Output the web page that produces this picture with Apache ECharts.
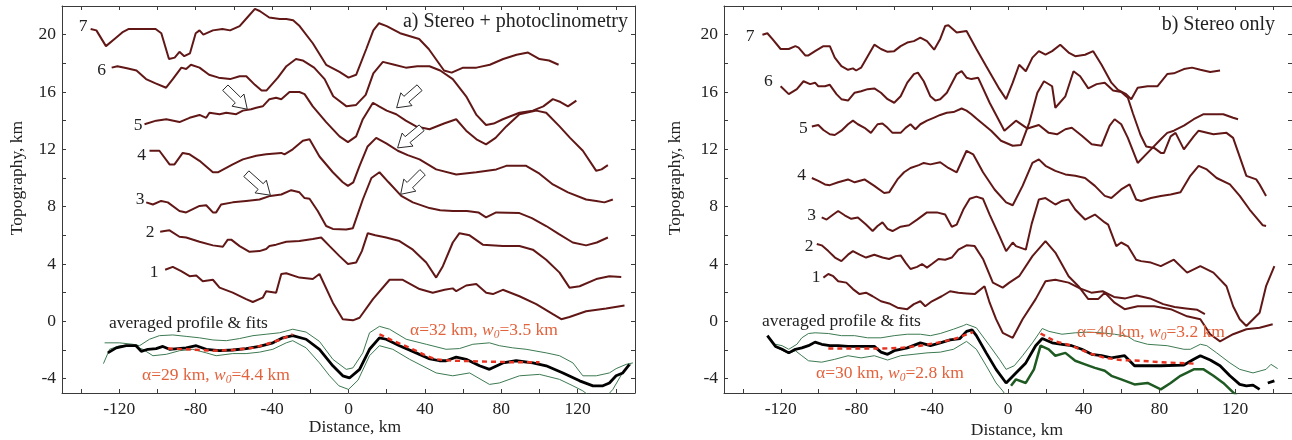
<!DOCTYPE html>
<html><head><meta charset="utf-8">
<script src="https://cdn.jsdelivr.net/npm/echarts@6/dist/echarts.min.js"></script>
<style>html,body{margin:0;padding:0;background:#fff}#c{width:1292px;height:440px}</style>
</head><body><div id="c"></div>
<script>
// ---------- tick labels ----------
const X_LABELS = [-120, -80, -40, 0, 40, 80, 120];
const X_TICKS = [-140,-120,-100,-80,-60,-40,-20,0,20,40,60,80,100,120,140];
const Y_LABELS = [-4, 0, 4, 8, 12, 16, 20];
const Y_TICKS = [-4,-2,0,2,4,6,8,10,12,14,16,18,20];

// ---------- panel a: stereo + photoclinometry ----------
const A7 = [[-135,20.4],[-132,20.3],[-127,19.2],[-122.5,19.7],[-118,20.2],[-115,20.4],[-101,20.4],[-98,20.1],[-94,18.3],[-91,18.4],[-88.5,18.8],[-86,18.5],[-83,18.7],[-80,20.1],[-78,20.3],[-76,20.0],[-71,20.3],[-66,20.4],[-62,20.3],[-57,20.6],[-53,21.2],[-49,21.8],[-46.5,21.65],[-41.5,21.2],[-36,21.1],[-32.5,21.1],[-29,21.0],[-25.6,20.6],[-18.7,19.4],[-11.7,17.9],[-4.7,17.4],[0,17.0],[4,17.2],[9.3,19.0],[13,20.3],[16,20.8],[20,20.6],[27,20.1],[37,19.7],[42,19.0],[50,17.5],[54,17.35],[60,17.7],[67,17.7],[74,17.9],[81,18.3],[88,18.6],[94,18.75],[100,18.3],[105,18.2],[110,17.9]];
const A6 = [[-124,17.7],[-121,17.8],[-116,17.65],[-111,17.5],[-106,16.9],[-101,16.6],[-95.5,16.3],[-92,16.9],[-87.5,17.7],[-85,17.6],[-82.5,17.9],[-78,17.7],[-73,17.2],[-68,17.0],[-62,16.9],[-57,17.1],[-53.5,17.1],[-49,16.5],[-45.5,16.1],[-43,16.1],[-37,17.0],[-32.5,17.8],[-27.5,18.3],[-24,18.2],[-18,17.7],[-12.5,16.9],[-8,15.7],[-1,15.0],[4,15.1],[9,15.8],[13,17.3],[18,18.1],[24,17.9],[30,17.7],[36,17.8],[42.4,17.8],[48,17.5],[54.6,16.9],[61.6,15.7],[67,14.4],[72,13.7],[76,13.8],[80.8,14.1],[89.5,14.55],[96.5,14.7],[102,15.0],[107,15.5],[111,15.3],[114.9,15.0],[119.3,15.4]];
const A5 = [[-106.8,13.75],[-100.7,14.0],[-95.4,14.1],[-88.5,13.9],[-83.2,14.2],[-78,14.4],[-74.5,14.2],[-72.8,14.55],[-67.5,14.45],[-64,14.55],[-58.8,14.45],[-55.3,14.7],[-51,14.8],[-48.3,14.9],[-44.9,15.0],[-41.4,15.5],[-37.9,15.6],[-35.2,15.5],[-30.9,16.0],[-25.7,16.0],[-23,15.85],[-18.7,15.0],[-11.7,13.9],[-4.7,12.9],[-0.3,12.5],[4,12.9],[7.5,14.1],[12.8,15.25],[16,15.0],[20,14.7],[25,14.45],[30,14.0],[35.4,13.6],[42.4,13.4],[50,13.8],[56.4,14.1],[61.6,13.3],[67,12.7],[72,12.35],[77,12.8],[82.6,13.6],[89.5,14.45],[98.3,14.7],[103.5,14.55],[110.5,13.6],[116,12.8],[122.7,11.9],[129.7,10.5],[132.5,10.6],[135.8,10.9]];
const A4 = [[-104.2,11.9],[-99,11.9],[-93.7,10.95],[-91.1,10.95],[-86.8,11.75],[-83.2,11.65],[-78,11.2],[-71,10.4],[-68.4,10.4],[-60.6,10.95],[-55.3,11.3],[-48.3,11.55],[-43.1,11.65],[-35.2,11.75],[-33.5,11.65],[-29.2,12.0],[-23.9,12.6],[-20.4,12.7],[-15.2,11.5],[-8.2,10.4],[-3,9.7],[-0.3,9.45],[2.5,9.7],[5.8,10.85],[10,12.2],[14.5,12.8],[20,12.4],[25.8,11.9],[31,11.6],[37.2,11.3],[45.9,10.6],[56.4,10.25],[66.9,10.4],[77.4,10.6],[82.6,10.85],[93,10.85],[100,10.3],[107,9.55],[114.9,9.0],[124.4,8.5],[129.7,8.4],[134,8.3],[138.4,8.5]];
const A3 = [[-105.9,8.3],[-102.4,8.15],[-98.1,8.4],[-94.6,8.3],[-88.5,7.7],[-85,7.6],[-78,8.05],[-74.5,8.1],[-71,7.6],[-69.3,7.6],[-66.7,8.15],[-60.6,8.3],[-53.6,8.4],[-46.6,8.5],[-41,8.75],[-35.2,8.85],[-30,9.15],[-25.7,9.0],[-23,8.6],[-20.4,8.55],[-16.1,7.7],[-11.7,6.65],[-8.2,6.45],[-1.2,6.4],[2.3,6.5],[7.5,8.5],[12,10.0],[16.2,10.4],[21,9.7],[27.6,8.75],[33.7,8.3],[42.4,7.9],[48,7.75],[54.7,7.7],[62,7.7],[68,7.6],[72,7.25],[77.3,7.6],[89.5,7.55],[96,7.2],[103.5,6.65],[110,6.1],[117.4,5.5],[124.4,5.3],[130,5.5],[135.8,5.85]];
const A2 = [[-98.6,6.25],[-96.3,6.3],[-93.7,6.35],[-88.5,5.9],[-85,5.85],[-78,5.55],[-71,5.3],[-65.8,5.2],[-63.2,5.7],[-61.4,5.7],[-57,5.25],[-51.8,4.85],[-46.6,4.9],[-43.1,5.05],[-41.4,5.25],[-37.9,5.35],[-32.6,5.55],[-25.7,5.6],[-18.7,5.75],[-14.3,5.85],[-9.9,5.25],[-4.7,4.55],[-0.3,4.0],[4,4.1],[7,4.9],[10.1,6.15],[14,6.0],[19.7,5.85],[26.7,5.6],[33.7,5.0],[40.7,4.1],[45.9,3.05],[49.4,3.85],[54.6,5.5],[58.1,6.15],[63.4,6.0],[70.3,5.35],[80.8,5.25],[89.5,5.25],[96.5,5.0],[103.5,4.3],[110.5,3.4],[115.7,2.35],[121,2.45],[129.7,2.95],[136.6,3.15],[142.8,3.1]];
const A1 = [[-96,3.6],[-92,3.8],[-87.6,3.5],[-83.2,3.15],[-79.7,3.2],[-76.3,2.8],[-71,2.9],[-67.5,2.35],[-60.6,2.0],[-53.6,1.55],[-50.1,1.35],[-44.9,1.65],[-43.1,2.1],[-37.9,2.0],[-35.2,3.3],[-32.6,3.35],[-25.7,3.05],[-18.7,2.95],[-15.2,3.3],[-8.2,1.3],[-3,0.15],[2.3,0.07],[5.8,0.25],[12.8,1.55],[21.5,2.9],[28.4,2.9],[37.2,2.25],[44.1,2.0],[50.3,2.2],[54.6,2.3],[56.4,2.1],[61.6,2.5],[66.9,2.6],[72.1,2.0],[75.6,1.9],[80.8,2.2],[89.5,1.75],[98.3,1.2],[107,0.5],[111.4,0.15],[115.7,0.3],[124.4,0.7],[134.9,0.9],[144.5,1.1]];
const AVG_A = [[-126,-2.2],[-121.6,-1.85],[-116.4,-1.7],[-111.2,-1.7],[-108.5,-2.1],[-105,-1.95],[-100.7,-1.9],[-97.2,-1.75],[-93.7,-1.95],[-85,-1.85],[-79.7,-1.7],[-74.5,-1.95],[-67.5,-2.05],[-60.6,-2.0],[-53.6,-1.9],[-46.6,-1.75],[-39.6,-1.5],[-34.4,-1.15],[-29.2,-1.0],[-22.2,-1.25],[-15.2,-1.95],[-8.2,-3.1],[-3,-3.8],[0.5,-3.95],[5.8,-3.35],[11,-1.95],[16.2,-1.15],[19.7,-1.25],[26.7,-1.7],[35.4,-2.2],[42,-2.6],[47.6,-2.75],[51.1,-2.75],[56.4,-2.5],[61.6,-2.65],[68.6,-3.1],[73.8,-3.35],[80.8,-2.9],[87.8,-2.75],[96.5,-2.9],[103.5,-3.1],[112.3,-3.6],[121,-4.15],[128,-4.5],[133.2,-4.5],[136.6,-4.3],[140.1,-3.8],[143.6,-3.6],[147.1,-3.0]];
const UP_A = [[-127.7,-1.5],[-119.9,-1.5],[-112.9,-1.6],[-109.4,-1.7],[-104.2,-1.25],[-99,-1.0],[-92,-0.95],[-85,-1.05],[-78,-1.15],[-71,-1.3],[-64,-1.35],[-57,-1.2],[-50,-1.0],[-43.1,-0.9],[-36.1,-0.8],[-29.2,-0.55],[-22.2,-0.75],[-15.2,-1.4],[-8.2,-2.65],[-1.2,-3.35],[2.3,-3.25],[7.5,-2.2],[11,-0.8],[16.2,-0.35],[21.5,-0.55],[30.2,-1.25],[40.7,-1.6],[51.1,-1.95],[58.1,-1.9],[65.1,-1.6],[73.8,-1.5],[79,-1.7],[86,-1.85],[93,-1.95],[103.5,-2.2],[110.5,-2.4],[117.5,-2.9],[122.7,-3.8],[129.7,-3.8],[136.6,-3.6],[140.1,-3.3],[145.4,-3.0],[148.9,-2.9]];
const LO_A = [[-128.3,-2.95],[-125.1,-1.95],[-119.9,-1.7],[-112.9,-1.7],[-107.7,-1.95],[-102.4,-2.4],[-95.4,-2.3],[-88.5,-2.05],[-81.5,-1.95],[-74.5,-2.2],[-69.3,-2.4],[-60.6,-2.25],[-53.6,-2.25],[-46.6,-2.15],[-39.6,-1.95],[-32.6,-1.5],[-29.2,-1.35],[-22.2,-1.85],[-15.2,-2.9],[-9.9,-3.8],[-5,-4.5],[0,-4.75],[5,-4.1],[11,-2.4],[16.2,-1.7],[23.2,-1.95],[32,-2.65],[45.9,-3.6],[54.6,-3.8],[63.4,-3.6],[73.8,-4.4],[79,-4.3],[89.5,-3.8],[100,-3.7],[110.5,-4.05],[117.5,-4.5],[122.7,-4.85],[128,-5.4],[134,-5.4],[138.4,-4.75],[141.9,-3.95],[144.5,-3.35],[148,-3.0]];
const FIT_A1 = [[-94.6,-1.9],[-85,-1.95],[-71,-2.05],[-60.6,-2.0],[-50.1,-1.85],[-43.1,-1.6],[-36.1,-1.3],[-29.2,-0.9]];
const FIT_A2 = [[16.2,-0.9],[23.2,-1.35],[33.7,-1.95],[40.7,-2.4],[45.9,-2.65],[54.7,-2.75],[70,-2.8],[85,-2.85],[100,-2.85]];
// arrows: [tailX, tailY, tipX, tipY]
const ARROWS_A = [[-64.5,16.3,-53,14.8],[37.2,16.3,25.2,14.9],[38.3,13.5,25.7,12.1],[38.8,10.4,27.3,8.86],[-53.5,10.3,-40.9,8.8]];

// ---------- panel b: stereo only ----------
const B7 = [[-129.7,20.0],[-127.1,20.1],[-124.5,19.7],[-120.1,19.0],[-115.8,19.0],[-112.3,19.2],[-110.6,19.1],[-107.1,18.55],[-105.4,18.55],[-101.9,18.85],[-97.5,19.2],[-94.1,19.2],[-91.5,18.4],[-88,17.8],[-84.5,17.55],[-81.9,17.65],[-80.2,17.5],[-77.6,17.7],[-74.1,18.5],[-70.6,19.3],[-67.1,19.0],[-63.6,18.8],[-60.1,18.85],[-56.7,19.2],[-53.2,19.45],[-49.7,19.55],[-46.3,19.8],[-42.8,19.55],[-39,18.95],[-35.8,19.7],[-33.2,20.6],[-31.5,20.65],[-27.1,20.15],[-24.5,20.2],[-21.9,20.25],[-16.7,19.0],[-11.5,17.8],[-4.5,16.2],[-1,15.5],[2.5,16.65],[5.9,17.9],[9.4,17.45],[12.9,18.4],[16.3,18.85],[19.8,18.6],[23.3,18.85],[27.6,19.3],[32,18.75],[35.5,18.5],[40.7,18.6],[45,18.85],[49.4,17.9],[54.6,16.65],[58.1,16.15],[62.4,15.85],[65.1,15.5],[68.5,16.3],[73.7,16.4],[78.9,16.4],[84.1,17.25],[87.6,17.3],[92.9,17.6],[97.2,17.7],[101.6,17.55],[106.8,17.4],[112,17.5]];
const B6 = [[-120.1,16.4],[-115.8,15.85],[-111.5,16.2],[-108,16.75],[-104.5,16.55],[-101.9,16.65],[-100.2,16.4],[-96.7,16.4],[-94.1,16.5],[-90.6,15.85],[-88,15.5],[-84.5,15.4],[-81,15.95],[-77.6,16.05],[-74.1,16.2],[-70.6,16.25],[-67.1,15.95],[-63.6,15.5],[-60.1,15.25],[-56.7,15.7],[-53.2,16.65],[-49.7,17.25],[-47.6,17.35],[-44.5,16.75],[-41,15.7],[-38.4,15.4],[-35.8,15.5],[-32.3,15.95],[-27.1,17.25],[-24.5,17.45],[-21.9,17.0],[-19.3,16.9],[-15.8,17.0],[-9.7,15.25],[-3.7,13.75],[-1.9,13.3],[4.2,14.0],[10.3,13.45],[16.3,13.7],[21.5,13.15],[25.9,13.05],[30.3,13.4],[33.7,13.5],[39,12.95],[44.2,12.35],[49.4,12.25],[53.7,13.65],[56.3,14.1],[59.8,13.75],[63.3,12.8],[68.5,11.05],[75.5,12.0],[80.7,12.7],[84.1,13.15],[87.6,13.3],[92.9,13.65],[98.1,14.1],[103.3,14.45],[108.5,14.45],[113.7,14.45],[118.9,14.2],[121.5,14.1]];
const B5 = [[-103.6,13.6],[-100.2,13.7],[-97.5,13.35],[-94.1,13.05],[-91.5,13.0],[-88,13.3],[-84.5,13.75],[-81.9,14.0],[-79.3,13.75],[-75.8,13.5],[-72.4,13.15],[-68.9,13.75],[-66.3,13.8],[-63.6,13.5],[-61,13.15],[-56.7,13.15],[-54.1,13.5],[-51.5,13.75],[-48.9,13.4],[-46.3,13.75],[-42.8,14.0],[-39.3,14.2],[-35.8,14.4],[-32.3,14.55],[-28.8,14.6],[-24.5,14.85],[-21.9,14.7],[-19.3,14.45],[-16.7,14.15],[-8.9,13.3],[-3.7,12.6],[2.5,12.25],[6.8,12.3],[11.2,13.85],[15.5,15.95],[19,16.75],[23.3,16.4],[25,14.9],[30.3,15.7],[34.6,17.45],[38.1,17.1],[42.4,16.25],[46.8,16.55],[51.1,16.65],[55.5,16.1],[59.8,16.0],[63.3,15.6],[66,14.5],[70,13.0],[73,12.2],[77.2,12.1],[80.7,11.75],[82.4,11.75],[85.9,12.9],[88.5,13.15],[92.9,12.0],[98.1,12.9],[100.7,13.3],[108.5,13.05],[115.4,13.15],[118.9,12.8],[125.9,10.15],[131.1,9.9],[132.9,9.55],[136.3,8.75]];
const B4 = [[-103.6,10.0],[-100.2,9.8],[-96.7,9.55],[-94.1,9.5],[-89.7,9.7],[-84.5,9.9],[-81,9.7],[-75.8,9.9],[-70.6,9.45],[-65.4,8.95],[-62.8,9.0],[-58.4,9.9],[-54.9,10.4],[-51.5,10.7],[-47.1,10.9],[-44.5,11.05],[-41,10.95],[-35.8,11.1],[-31.5,10.7],[-27.1,10.4],[-21.9,11.9],[-18.4,11.65],[-13.2,10.4],[-7.1,9.2],[-1,8.3],[2.5,8.1],[7.7,9.45],[12.9,11.05],[16.3,11.3],[19.8,10.85],[25,10.5],[30.3,10.25],[35.5,10.15],[40.7,10.0],[45.9,9.45],[51.1,8.75],[54.6,8.6],[59.8,9.2],[64.2,9.55],[67.7,8.5],[70.3,8.4],[75.5,8.6],[80.7,8.75],[85.9,8.85],[91.1,9.0],[96.3,10.15],[100.7,10.85],[105,10.6],[110.2,10.0],[117.2,9.55],[122.4,8.75],[127.6,7.8],[134.6,6.7],[136.3,6.65]];
const B3 = [[-98.4,7.25],[-95.8,7.1],[-92.3,7.45],[-89.7,7.7],[-86.3,7.4],[-82.8,7.15],[-79.3,7.25],[-75,6.75],[-71.5,6.3],[-68.9,6.65],[-66.3,6.9],[-63.6,6.45],[-61,6.3],[-56.7,6.6],[-52.3,6.7],[-48,7.1],[-42.8,7.6],[-37.6,7.6],[-33.2,7.45],[-29.7,6.6],[-27.1,6.75],[-23.6,7.8],[-20.2,8.55],[-16.7,8.7],[-13.2,8.55],[-9.7,7.45],[-4.5,5.95],[-1,4.9],[2.5,5.5],[4.2,5.25],[9.4,5.0],[12.5,6.8],[16.3,8.5],[19.8,8.6],[25,8.15],[28.5,8.4],[32,8.5],[35.5,7.8],[40.7,7.1],[45.9,7.45],[51.1,6.9],[52.9,6.75],[57.2,5.25],[59.8,5.5],[63.3,5.25],[67.7,4.3],[70.3,4.2],[75.5,4.1],[80.7,3.85],[87.6,4.3],[94.6,3.4],[101.6,3.85],[108.5,3.4],[115.4,2.45],[118.9,1.05],[122.4,0.15],[125.9,-0.33],[132.9,0.6],[136.3,2.45],[140.7,3.85]];
const B2 = [[-101,5.4],[-98.4,5.3],[-94.9,4.9],[-91.4,4.45],[-88,4.2],[-84.5,4.65],[-81.9,4.9],[-78.4,4.65],[-75,4.45],[-70.6,4.65],[-66.3,4.45],[-62.8,4.35],[-59.3,4.55],[-56.7,4.6],[-54.1,4.1],[-51.5,3.65],[-48,3.8],[-45.4,4.0],[-42.8,3.75],[-40.2,4.0],[-36.7,4.35],[-33.2,4.3],[-29.7,4.45],[-26.2,5.0],[-21.9,5.3],[-17.6,5.25],[-13.2,4.35],[-8,2.7],[-2.8,2.35],[0.7,2.7],[5.9,3.15],[12.9,4.55],[19.8,5.6],[25,4.8],[32,3.15],[37.2,2.45],[42.4,1.55],[47.6,1.55],[51.1,2.0],[56.3,1.3],[61.6,0.85],[68.5,1.05],[77.2,1.05],[85.9,0.85],[94.6,0.35],[101.6,0.15],[106.8,-0.9],[112,-1.4],[118.9,-0.9],[125.9,-0.55],[132.9,-0.45],[139.8,-0.2]];
const B1 = [[-97.5,3.05],[-94.9,3.3],[-92.3,3.15],[-89.7,2.8],[-85.4,2.7],[-81.9,2.25],[-78.4,1.9],[-75,2.0],[-71.5,1.75],[-67.1,1.4],[-62.8,1.25],[-58.4,0.95],[-53.2,0.85],[-49.7,1.2],[-46.3,1.4],[-43.7,1.05],[-40.2,1.4],[-35,1.75],[-30.6,2.1],[-26.2,2.0],[-21.9,1.95],[-17.6,1.9],[-12.4,2.45],[-9.7,1.3],[-6.3,0.15],[-2.8,-0.8],[2.5,-1.15],[7.7,0.15],[14.6,1.55],[19.8,2.8],[25,2.9],[32,2.7],[38,2.3],[44,2.0],[50,2.1],[56,1.7],[62,1.6],[68,1.8],[75,1.6],[82,1.2],[88,1.0],[94,0.9],[100,0.8],[104,0.5]];
const AVG_B = [[-127.1,-1.0],[-122.8,-1.75],[-119.3,-1.95],[-115.8,-2.2],[-112.3,-1.95],[-108.9,-1.85],[-105.4,-1.7],[-101.9,-1.45],[-98.4,-1.6],[-94.1,-1.7],[-89.7,-1.7],[-84.5,-1.75],[-77.6,-1.75],[-70.6,-1.75],[-67.1,-2.15],[-63.6,-2.3],[-60.1,-2.05],[-53.2,-1.85],[-46.3,-1.5],[-41,-1.7],[-35.8,-1.5],[-30.6,-1.3],[-25.4,-1.2],[-21.9,-0.7],[-19,-0.6],[-16.7,-1.0],[-11.5,-2.2],[-6.3,-3.35],[-1,-4.3],[4.2,-3.6],[9.4,-2.9],[14.6,-1.7],[18.1,-1.2],[23.3,-1.5],[28.5,-1.6],[33.7,-1.7],[39,-1.95],[44.2,-2.3],[49.4,-2.4],[54.6,-2.55],[61.6,-2.4],[66.8,-3.1],[72,-3.1],[80.7,-3.1],[92.9,-3.05],[98.1,-2.65],[101.6,-2.4],[106.8,-2.7],[112,-3.1],[117.2,-3.8],[122.4,-4.4],[125.9,-4.5],[129.4,-4.45],[132.9,-4.75],[135,'-'],[137.2,-4.3],[140.7,-4.15]];
const UP_B = [[-122.8,-1.6],[-119.3,-1.7],[-115.8,-1.95],[-111.5,-1.6],[-108.9,-1.15],[-105.4,-0.85],[-101.9,-0.8],[-94.9,-0.85],[-88,-1.0],[-81,-1.0],[-74.1,-1.15],[-67.1,-1.15],[-60.1,-1.0],[-53.2,-0.9],[-46.3,-0.9],[-41,-1.0],[-35.8,-0.85],[-28.8,-0.55],[-23.6,-0.3],[-21.9,-0.2],[-16.7,-0.45],[-9.7,-1.7],[-4.5,-2.65],[-1,-3.35],[3.3,-3.1],[7.7,-2.4],[12.9,-1.5],[18.1,-0.5],[21.6,-0.7],[28.5,-0.9],[35.5,-0.8],[42.4,-0.75],[49.4,-0.8],[56.3,-0.9],[63.3,-1.05],[66.8,-1.35],[73.7,-1.6],[84.1,-1.7],[92.9,-1.95],[96.3,-1.95],[101.6,-1.6],[105,-1.7],[110.2,-2.2],[117.2,-2.9],[122.4,-3.35],[129.4,-3.6],[136.3,-3.35],[138.9,-3.0],[142.4,-3.3]];
const LO_B = [[-121.9,-1.85],[-115.8,-2.25],[-112.3,-2.05],[-108.9,-2.4],[-105.4,-2.75],[-98.4,-2.85],[-91.5,-2.65],[-84.5,-2.4],[-77.6,-2.55],[-70.6,-2.4],[-63.6,-2.7],[-56.7,-2.4],[-49.7,-2.3],[-42.8,-2.2],[-35.8,-2.15],[-28.8,-1.95],[-21.9,-1.4],[-16.7,-1.95],[-11.5,-3.1],[-6.3,-4.3],[-2.8,-4.85],[0,-5.4]];
const LO2_B = [[1.6,-4.5],[4.2,-4.05],[9.4,-4.3],[13.7,-3.35],[17.2,-1.7],[21.5,-1.95],[25,-2.4],[30.3,-2.2],[35.5,-2.75],[40.7,-3.0],[45.9,-3.25],[51.1,-3.45],[54.6,-3.8],[59.8,-4.05],[66.8,-4.4],[73.7,-4.3],[80.7,-4.75],[85.9,-4.3],[91.1,-3.8],[98.1,-3.35],[103.3,-3.35],[108.5,-3.8],[113.7,-4.3],[118.9,-4.95],[124,-5.6]];
const FIT_B1 = [[-94.9,-1.9],[-84.5,-1.9],[-67.1,-1.9],[-56.7,-1.85],[-46.3,-1.7],[-37.6,-1.5],[-28.8,-1.25],[-23.6,-1.0],[-18.4,-0.75]];
const FIT_B2 = [[17.2,-0.85],[25,-1.4],[33.7,-1.7],[42.4,-2.2],[51.1,-2.55],[59.8,-2.7],[70.3,-2.75],[80.7,-2.85],[98.1,-2.95]];

// ---------- texts ----------
const PROFILE_NAMES = ['1','2','3','4','5','6','7'];
const TITLE_A = 'a) Stereo + photoclinometry';
const TITLE_B = 'b) Stereo only';
const X_NAME = 'Distance, km';
const Y_NAME = 'Topography, km';
const AVG_NAME = 'averaged profile & fits';
const FITS_A = [['29','4.4'],['32','3.5']];
const FITS_B = [['30','2.8'],['40','3.2']];

// ---------- styling ----------
const SERIF = '"Liberation Serif","Times New Roman",serif';
const FS = 17.5;
const PROF_COLOR = '#621717';
const AXIS_COLOR = '#3a3a3a';
const TXT = '#222';
const FIT_TXT = '#e2623c';

const chart = echarts.init(document.getElementById('c'), null, {renderer:'canvas'});

function xAxis(grid, pos, labels) {
  return {type:'value', gridIndex:grid, position:pos, min:-150, max:150,
    axisLine:{show:true, onZero:false, lineStyle:{color:AXIS_COLOR, width:1}},
    axisTick:{show:true, inside:true, length:4, customValues:X_TICKS, lineStyle:{color:AXIS_COLOR}},
    axisLabel:{show:labels, customValues:X_LABELS, margin:7, fontFamily:SERIF, fontSize:FS, color:TXT},
    splitLine:{show:false}};
}
function yAxis(grid, pos, labels) {
  return {type:'value', gridIndex:grid, position:pos, min:-5, max:22,
    axisLine:{show:true, onZero:false, lineStyle:{color:AXIS_COLOR, width:1}},
    axisTick:{show:true, inside:true, length:4, customValues:Y_TICKS, lineStyle:{color:AXIS_COLOR}},
    axisLabel:{show:labels, customValues:Y_LABELS, margin:6, fontFamily:SERIF, fontSize:FS, color:TXT},
    splitLine:{show:false}};
}
function line(data, xi, yi, color, width, extra) {
  return Object.assign({type:'line', xAxisIndex:xi, yAxisIndex:yi, data:data, showSymbol:false, symbol:'none',
    connectNulls:false, animation:false, silent:true, clip:true,
    lineStyle:{color:color, width:width}}, extra||{});
}
function dashed(data, xi, yi) {
  return line(data, xi, yi, '#e8311f', 2.4, {lineStyle:{color:'#e8311f', width:2.4, type:[5,4]}});
}
function arrowSeries(data, xi, yi) {
  return {type:'custom', xAxisIndex:xi, yAxisIndex:yi, data:data, silent:true, animation:false, z:10,
    encode:{x:[0,2], y:[1,3]},
    renderItem:function(params, api){
      const t = api.coord([api.value(0), api.value(1)]);
      const h = api.coord([api.value(2), api.value(3)]);
      const dx=h[0]-t[0], dy=h[1]-t[1], L=Math.hypot(dx,dy);
      const ux=dx/L, uy=dy/L, nx=-uy, ny=ux;
      const headL=13, headW=8.5, shaftW=3.8;
      const b=[h[0]-ux*headL, h[1]-uy*headL];
      const pts=[[t[0]+nx*shaftW,t[1]+ny*shaftW],[b[0]+nx*shaftW,b[1]+ny*shaftW],[b[0]+nx*headW,b[1]+ny*headW],h,
        [b[0]-nx*headW,b[1]-ny*headW],[b[0]-nx*shaftW,b[1]-ny*shaftW],[t[0]-nx*shaftW,t[1]-ny*shaftW]];
      return {type:'polygon', shape:{points:pts}, style:{fill:'#fff', stroke:'#2a2a2a', lineWidth:1}};
    }};
}

const series = [];
[A1,A2,A3,A4,A5,A6,A7].forEach(d=>series.push(line(d,0,0,PROF_COLOR,2)));
series.push(line(UP_A,0,0,'#3d7a52',1));
series.push(line(LO_A,0,0,'#3d7a52',1));
series.push(line(AVG_A,0,0,'#000',2.8));
series.push(dashed(FIT_A1,0,0));
series.push(dashed(FIT_A2,0,0));
series.push(arrowSeries(ARROWS_A,0,0));

[B1,B2,B3,B4,B5,B6,B7].forEach(d=>series.push(line(d,2,2,PROF_COLOR,2)));
series.push(line(UP_B,2,2,'#3d7a52',1));
series.push(line(LO_B,2,2,'#3d7a52',1));
series.push(line(LO2_B,2,2,'#1e5a22',2.5));
series.push(line(AVG_B,2,2,'#000',2.8));
series.push(dashed(FIT_B1,2,2));
series.push(dashed(FIT_B2,2,2));

function txt(x, y, text, opts) {
  return {type:'text', x:x, y:y, z:20, silent:true,
    style:Object.assign({text:text, font:FS+'px '+SERIF, fill:TXT, align:'left', verticalAlign:'middle'}, opts||{})};
}
function fitTxt(x, y, pair) {
  return {type:'text', x:x, y:y, z:20, silent:true,
    style:{text:'{n|\u03b1='+pair[0]+' km, }{i|w}{s|0}{n|='+pair[1]+' km}', align:'left', verticalAlign:'middle',
      rich:{n:{font:FS+'px '+SERIF, fill:FIT_TXT, lineHeight:22},
            i:{font:'italic '+FS+'px '+SERIF, fill:FIT_TXT, lineHeight:22},
            s:{font:'italic 11.5px '+SERIF, fill:FIT_TXT, lineHeight:22, padding:[9,0,0,0]}}}};
}

const labelPosA = [[154,272],[150,232],[140,199],[141.7,155],[138,125],[101.7,70],[83,26]];
const labelPosB = [[816,277],[809,246],[811.7,215],[801.7,175],[803.3,128.3],[768.3,81],[750,36.7]];
const graphics = [];
PROFILE_NAMES.forEach((n,i)=>{
  graphics.push(txt(labelPosA[i][0], labelPosA[i][1], n, {align:'center'}));
  graphics.push(txt(labelPosB[i][0], labelPosB[i][1], n, {align:'center'}));
});
graphics.push(txt(628, 22, TITLE_A, {align:'right', font:'20px '+SERIF}));
graphics.push(txt(1275, 25, TITLE_B, {align:'right', font:'20px '+SERIF}));
graphics.push(txt(355, 427, X_NAME, {align:'center'}));
graphics.push(txt(1017, 430, X_NAME, {align:'center'}));
graphics.push(Object.assign(txt(17, 178, Y_NAME, {align:'center'}), {rotation:Math.PI/2}));
graphics.push(Object.assign(txt(675, 178, Y_NAME, {align:'center'}), {rotation:Math.PI/2}));
graphics.push(txt(109, 323, AVG_NAME));
graphics.push(txt(762, 321, AVG_NAME));
graphics.push(fitTxt(142, 375, FITS_A[0]));
graphics.push(fitTxt(410, 330, FITS_A[1]));
graphics.push(fitTxt(816, 373, FITS_B[0]));
graphics.push(fitTxt(1077, 332, FITS_B[1]));

chart.setOption({
  animation:false,
  backgroundColor:'#fff',
  grid:[{left:62, top:6, width:573, height:387},
        {left:724, top:6, width:576, height:387}],
  xAxis:[xAxis(0,'bottom',true), xAxis(0,'top',false), xAxis(1,'bottom',true), xAxis(1,'top',false)],
  yAxis:[yAxis(0,'left',true), yAxis(0,'right',false), yAxis(1,'left',true), yAxis(1,'right',false)],
  series:series,
  graphic:graphics
});
</script></body></html>
